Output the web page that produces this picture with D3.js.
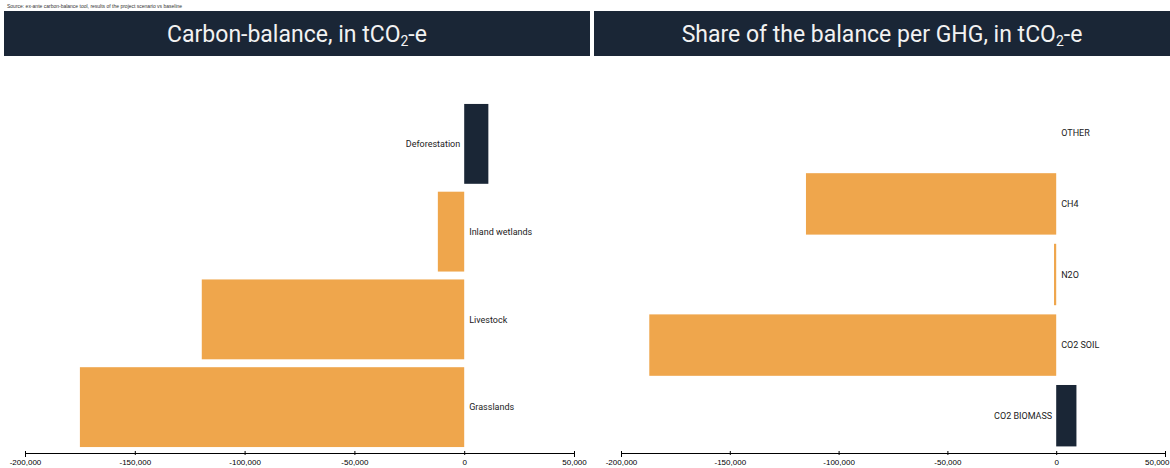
<!DOCTYPE html>
<html>
<head>
<meta charset="utf-8">
<script src="https://cdn.jsdelivr.net/npm/d3@7"></script>
<style>
  body { margin: 0; background: #fff; }
  svg { display: block; }
  .tick text { font-family: "Liberation Sans", Arial, sans-serif; font-size: 8px; fill: #000; }
  .lbl { font-family: Roboto, "Liberation Sans", sans-serif; font-size: 9px; fill: #222; }
</style>
</head>
<body>
<div id="svgDiv"></div>
<script>
// data
var sectorNames = ["Deforestation", "Inland wetlands", "Livestock", "Grasslands"];
var sectorValues = [11000, -12000, -119500, -175000];

var gasNames = ["OTHER", "CH4", "N2O", "CO2 SOIL", "CO2 BIOMASS"];
var gasValues = [0, -115000, -1000, -187000, 9300];

var tickValues = [-200000, -150000, -100000, -50000, 0, 50000];

var navy = "#1a2636", orange = "#efa64c";
var svgWidth = 1170, svgHeight = 468;

var svg = d3.select("#svgDiv").append("svg")
    .attr("width", svgWidth)
    .attr("height", svgHeight);

// tiny source line at the very top
svg.append("text")
    .attr("x", 7).attr("y", 8)
    .style("font-family", "Liberation Sans, sans-serif")
    .style("font-size", "5px")
    .style("fill", "#333")
    .text("Source: ex-ante carbon-balance tool, results of the project scenario vs baseline");

var fmt = d3.format(",");

// draws one panel
function drawPanel(opt) {
    var g = svg.append("g");

    // header
    g.append("rect")
        .attr("x", opt.hx).attr("y", 11)
        .attr("width", opt.hw).attr("height", 45)
        .attr("fill", navy);
    var t = g.append("text")
        .attr("x", opt.hx + opt.hw / 2).attr("y", 42)
        .attr("text-anchor", "middle")
        .style("font-family", "Roboto, sans-serif")
        .style("font-size", "23px")
        .style("fill", "#f2f2f2")
        .text(opt.title);
    t.append("tspan").attr("dy", 4).style("font-size", "14px").text("2");
    t.append("tspan").attr("dy", -4).text("-e");

    var xScale = d3.scaleLinear()
        .domain([-200000, 50000])
        .range([opt.x0, opt.x1]);
    var yScale = d3.scaleBand()
        .domain(opt.names)
        .range([opt.y0, opt.y1])
        .paddingInner(opt.pad)
        .paddingOuter(opt.pad / 2);

    var rows = opt.names.map((n, i) => ({ name: n, value: opt.values[i] }));

    g.selectAll("rect.bar")
        .data(rows)
        .enter().append("rect")
        .attr("class", "bar")
        .attr("x", d => xScale(Math.min(0, d.value)))
        .attr("y", d => yScale(d.name))
        .attr("width", d => Math.abs(xScale(d.value) - xScale(0)))
        .attr("height", yScale.bandwidth())
        .attr("fill", d => d.value > 0 ? navy : orange);

    g.selectAll("text.lbl")
        .data(rows)
        .enter().append("text")
        .attr("class", "lbl")
        .attr("x", d => d.value > 0 ? xScale(0) - 4 : xScale(0) + 5)
        .attr("y", d => yScale(d.name) + yScale.bandwidth() / 2)
        .attr("dy", "0.35em")
        .attr("text-anchor", d => d.value > 0 ? "end" : "start")
        .text(d => d.name);

    var axis = g.append("g")
        .attr("transform", "translate(0," + opt.axisY + ")")
        .call(d3.axisBottom(xScale)
            .tickValues(tickValues)
            .tickSize(4)
            .tickFormat(d => fmt(d).replace("\u2212", "-")));
    axis.select(".domain").attr("stroke", "#000");
    axis.selectAll(".tick line").attr("stroke", "#000").attr("transform", "translate(0,-2)");
    axis.selectAll(".tick text").attr("y", 6);
    // keep the last label inside the page
    if (opt.x1 + 12 > svgWidth) {
        axis.selectAll(".tick text")
            .filter(d => d === 50000)
            .attr("text-anchor", "end")
            .attr("dx", svgWidth - opt.x1 - 1);
    }
}

drawPanel({
    title: "Carbon-balance, in tCO",
    hx: 4, hw: 586,
    x0: 25, x1: 574,
    y0: 100, y1: 451, pad: 0.09,
    axisY: 453,
    names: sectorNames, values: sectorValues
});

drawPanel({
    title: "Share of the balance per GHG, in tCO",
    hx: 594, hw: 576,
    x0: 621, x1: 1165,
    y0: 98, y1: 451, pad: 0.13,
    axisY: 453,
    names: gasNames, values: gasValues
});
</script>
</body>
</html>
